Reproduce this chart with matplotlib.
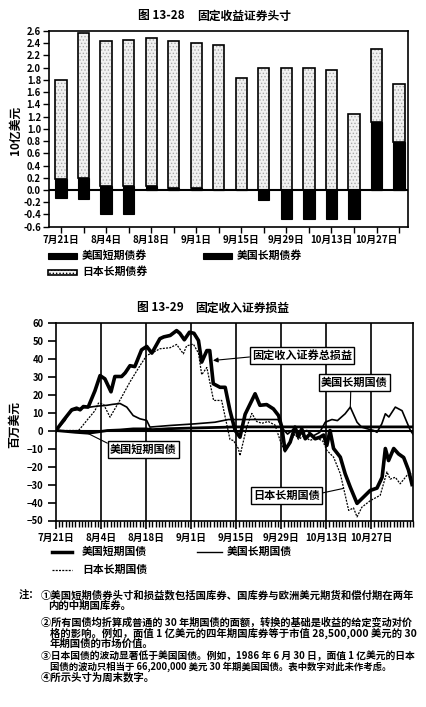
import matplotlib
matplotlib.use('Agg')
import matplotlib.pyplot as plt
import numpy as np
from matplotlib.patches import Rectangle
from matplotlib.lines import Line2D

plt.rcParams['font.family'] = ['Noto Sans CJK SC', 'DejaVu Sans']
plt.rcParams['axes.unicode_minus'] = False
plt.rcParams['hatch.linewidth'] = 0.6

# ---------------- data: Fig 13-28 positions (10亿美元) ----------------
bar_dates = ['7月21日', '7月28日', '8月4日', '8月11日', '8月18日', '8月25日',
             '9月1日', '9月8日', '9月15日', '9月22日', '9月29日', '10月6日',
             '10月13日', '10月20日', '10月27日', '11月3日']
us_short_pos = [-0.13, -0.15, -0.39, -0.39, 0.0, 0.0, 0.0, 0.0,
                0.0, -0.16, -0.48, -0.48, -0.48, -0.48, 0.0, 0.0]
us_long_pos = [0.18, 0.20, 0.07, 0.07, 0.07, 0.04, 0.04, 0.0,
               0.0, 0.0, 0.0, 0.0, 0.0, 0.0, 1.11, 0.79]
jp_long_pos = [1.62, 2.37, 2.37, 2.39, 2.41, 2.40, 2.37, 2.37,
               1.83, 2.00, 2.00, 2.00, 1.97, 1.25, 1.19, 0.95]
top_yticks = [-0.6, -0.4, -0.2, 0.0, 0.2, 0.4, 0.6, 0.8, 1.0, 1.2, 1.4,
              1.6, 1.8, 2.0, 2.2, 2.4, 2.6]

# ---------------- data: Fig 13-29 P&L (百万美元), day 0 = 7月21日 ----------------
pl_tick_labels = ['7月21日', '8月4日', '8月18日', '9月1日', '9月15日',
                  '9月29日', '10月13日', '10月27日']
total_days = [0, 2.3, 4.9, 6.4, 7.5, 8.5, 10, 12.1, 13.7, 15.2, 17.1, 18.3, 20.4,
              21.5, 23, 24.5, 26.6, 28.2, 29.8, 32.3, 33.5, 35.5, 37.5, 38.5,
              39.9, 41.5, 42.9, 44.3, 45.3, 46.9, 47.8, 48.9, 51, 52.6, 54.1,
              55.7, 57.2, 58.8, 61.9, 63.4, 65.5, 67.6, 69.2, 70.2, 71.2, 72.8,
              74.3, 75.4, 76.4, 77.5, 79, 80.6, 82.1, 83.2, 84.2, 85.2, 86.3,
              88.4, 89.9, 91.5, 93.6, 95.6, 97.7, 99.8, 101.4, 102.4, 103.4,
              105, 106.5, 108.1, 109.6, 110.7]
total_vals = [0, 5.6, 11.5, 12.4, 11.5, 13.3, 13, 22, 30.5, 28.7, 21.5, 30, 30,
              32, 36, 35.5, 44.8, 46.7, 43, 51, 52, 52.8, 55.5, 54,
              50.4, 54.6, 54, 50, 38, 44.4, 44.4, 26, 24, 24, 11,
              0, -3.7, 9, 20.4, 14, 14.4, 12, 8.3, 2, -11, -6.5,
              1.9, -3.5, 0.9, -4.6, -1.9, -4.6, -3.7, -2.5, -8.3, 0, -10,
              -14.8, -24, -31.5, -40.5, -37, -33.3, -32, -26, -10, -16.7,
              -10, -13, -15, -22, -30]
us_short_days = [0, 3, 6, 10, 13, 16, 20, 24, 28, 30, 35, 45, 52, 55, 111]
us_short_vals = [0, -0.5, -1, -1.5, -0.8, 0, 0.3, 0.9, 0.9, 0.5, 1, 1.5, 1.8, 2, 2]
us_long_days = [0, 2.8, 3.8, 4.9, 6.4, 8, 10.6, 12.6, 15.8, 17.5, 19.9, 22, 24,
                26.1, 28.2, 29.2, 35.5, 43.2, 49.4, 53.6, 69, 70.5, 72, 74, 76,
                78, 80, 82, 83.7, 85.8, 87.5, 89.9, 91.5, 93.6, 95, 96.7, 98.8,
                99.8, 101.3, 102.4, 103.5, 105.5, 107.6, 109.1, 110.2, 111]
us_long_vals = [0, 5.6, 9.3, 11, 11.5, 12.6, 13, 13.5, 14, 14.5, 15, 13, 8.3,
                6.5, 5.6, 1.9, 2.8, 3.7, 4.6, 6.1, 6.1, 1, -2, 1, -2,
                0, -3, -1, 4.6, 6.1, 5.5, 9.3, 13, 4.6, 1.9, 1, 0,
                -1, 3.7, 9.3, 7.5, 13, 11, 4.6, 0, -2]
jp_days = [0, 7, 7.5, 10, 12.1, 13.2, 14.8, 16.8, 18.3, 20.4, 23, 26.1, 28.2,
           29.8, 32.3, 35.5, 37.5, 39.6, 40.6, 42.7, 44.3, 44.8, 45.3, 46.9,
           49, 51.5, 54.1, 55.2, 56.7, 57.2, 59.3, 60.9, 62.4, 64, 66, 68.1,
           69.7, 71.2, 72.8, 74.3, 75.4, 77, 79, 81, 83, 84.2, 86.3, 88.4, 91,
           92.5, 93.6, 95.1, 97.7, 100.8, 102.9, 103.9, 105.5, 107, 109.1,
           110.6]
jp_vals = [0, 0, 1, 6.5, 11, 15.2, 14.5, 7.4, 12, 18.5, 27, 36, 41.7,
           43, 45.4, 46, 47.8, 42.6, 47, 48, 43, 37, 31, 35,
           16.7, 16.7, -5, -5.6, -10, -14, 1.9, 9.5, 5, 4, 5, 3,
           -5.6, -12, -6, -2, -5, -3, -5.5, -4, -6, -11, -14.8, -24, -44.4,
           -43, -48, -42.6, -39, -36, -23, -27, -26, -29.6, -25,
           -24]

W, H = 427, 707
fig = plt.figure(figsize=(W / 100, H / 100), dpi=100)


def fx(x):
    return x / W


def fy(y):
    return 1 - y / H


BOLD = 'bold'

# ======================= Figure 13-28 =======================
fig.text(fx(138), fy(16), '图 13-28', fontsize=8.5, fontweight=BOLD, ha='left', va='center')
fig.text(fx(197), fy(16), '固定收益证券头寸', fontsize=8.5, fontweight=BOLD, ha='left', va='center')

ax1 = fig.add_axes([fx(49.3), fy(226.7), (408.3 - 49.3) / W, (226.7 - 31) / H])
x = np.arange(len(bar_dates))
bw = 0.5
ax1.bar(x, us_short_pos, width=bw, color='black', edgecolor='black', lw=0.8, zorder=3)
ax1.bar(x, us_long_pos, width=bw, color='black', edgecolor='black', lw=0.8, zorder=3)
ax1.bar(x, jp_long_pos, bottom=us_long_pos, width=bw, color='#f1f1f1',
        edgecolor='#a8a8a8', hatch='.....', lw=0, zorder=2)
ax1.bar(x, jp_long_pos, bottom=us_long_pos, width=bw, fill=False,
        edgecolor='black', lw=1.2, zorder=4)
ax1.axhline(0, color='black', lw=1.5, zorder=5)
ax1.set_xlim(-0.52, 15.41)
ax1.set_ylim(-0.6, 2.6)
ax1.set_yticks(top_yticks)
ax1.set_yticklabels([f'{v:.1f}' for v in top_yticks], fontsize=6.8, fontweight=BOLD)
ax1.set_xticks(x)
ax1.set_xticklabels([d if i % 2 == 0 else '' for i, d in enumerate(bar_dates)],
                    fontsize=7, fontweight=BOLD)
ax1.tick_params(axis='both', direction='out', length=4, width=1, pad=2, colors='black')
for s in ax1.spines.values():
    s.set_linewidth(1.2)
fig.text(fx(15), fy(130), '10亿美元', rotation=90, fontsize=8.5, fontweight=BOLD,
         ha='center', va='center')

# legend (manual)
fig.add_artist(Rectangle((fx(48), fy(258.5)), 29 / W, 6 / H, transform=fig.transFigure,
                         facecolor='black', edgecolor='black', lw=0.8))
fig.text(fx(82), fy(255.5), '美国短期债券', fontsize=7.8, fontweight=BOLD, va='center')
fig.add_artist(Rectangle((fx(203), fy(258.5)), 29 / W, 6 / H, transform=fig.transFigure,
                         facecolor='black', edgecolor='black', lw=0.8))
fig.text(fx(237), fy(255.5), '美国长期债券', fontsize=7.8, fontweight=BOLD, va='center')
fig.add_artist(Rectangle((fx(48), fy(274.5)), 29 / W, 5 / H, transform=fig.transFigure,
                         facecolor='#f1f1f1', edgecolor='black', lw=1.2, hatch='.....'))
fig.text(fx(82), fy(272), '日本长期债券', fontsize=7.8, fontweight=BOLD, va='center')

# ======================= Figure 13-29 =======================
fig.text(fx(137), fy(308), '图 13-29', fontsize=8.5, fontweight=BOLD, ha='left', va='center')
fig.text(fx(195), fy(308), '固定收入证券损益', fontsize=8.5, fontweight=BOLD, ha='left', va='center')

ax2 = fig.add_axes([fx(56), fy(520.5), (413 - 56) / W, (520.5 - 322.5) / H])
ax2.set_xlim(0, 111)
ax2.set_ylim(-50, 60)
major = np.arange(0, 99, 14)
ax2.set_xticks(major)
ax2.set_xticklabels(pl_tick_labels, fontsize=7, fontweight=BOLD)
ax2.set_xticks(np.arange(0, 112, 1), minor=True)
yt = np.arange(-50, 61, 10)
ax2.set_yticks(yt)
ax2.set_yticklabels([('−' + str(-v)) if v < 0 else str(v) for v in yt],
                    fontsize=6.8, fontweight=BOLD)
ax2.tick_params(axis='both', which='major', direction='out', length=6, width=1.2, pad=3)
ax2.tick_params(axis='x', which='minor', direction='out', length=4, width=1)
for d in major[1:]:
    ax2.axvline(d, color='black', lw=1.2, zorder=1)
ax2.axhline(0, color='black', lw=1.5, zorder=2)
for s in ax2.spines.values():
    s.set_linewidth(1.2)

ax2.plot(jp_days, jp_vals, color='black', lw=0.9, ls=(0, (1.6, 1.0)), zorder=3)
ax2.plot(us_long_days, us_long_vals, color='black', lw=1.2, zorder=4)
ax2.plot(us_short_days, us_short_vals, color='black', lw=2.0, zorder=4)
ax2.plot(total_days, total_vals, color='black', lw=2.6, zorder=5,
         solid_joinstyle='round')

box = dict(boxstyle='square,pad=0.18', fc='white', ec='black', lw=1)
ax2.annotate('固定收入证券总损益', xy=(48.8, 38.9), xytext=(76.5, 41.7),
             fontsize=8, fontweight=BOLD, ha='center', va='center', bbox=box, zorder=6,
             arrowprops=dict(arrowstyle='-|>', lw=0.8, color='black', mutation_scale=7,
                             shrinkA=0, shrinkB=0, relpos=(0, 0.4)))
ax2.annotate('美国长期国债', xy=(91.5, 12.8), xytext=(92.7, 26.7),
             fontsize=8, fontweight=BOLD, ha='center', va='center', bbox=box, zorder=6,
             arrowprops=dict(arrowstyle='-', lw=0.8, color='black',
                             shrinkA=0, shrinkB=0, relpos=(0.45, 0)))
ax2.annotate('美国短期国债', xy=(10, -1.7), xytext=(27.1, -10.6),
             fontsize=8, fontweight=BOLD, ha='center', va='center', bbox=box, zorder=6,
             arrowprops=dict(arrowstyle='-', lw=0.8, color='black',
                             shrinkA=0, shrinkB=0, relpos=(0, 0.9)))
ax2.annotate('日本长期国债', xy=(89.3, -32.2), xytext=(71.6, -36.1),
             fontsize=8, fontweight=BOLD, ha='center', va='center', bbox=box, zorder=6,
             arrowprops=dict(arrowstyle='-', lw=0.8, color='black',
                             shrinkA=0, shrinkB=0, relpos=(1, 0.65)))

fig.text(fx(15), fy(425), '百万美元', rotation=90, fontsize=8.5, fontweight=BOLD,
         ha='center', va='center')

# legend (manual)
fig.add_artist(Line2D([fx(52), fx(72)], [fy(552), fy(552)], transform=fig.transFigure,
                      color='black', lw=2.5))
fig.text(fx(82), fy(552), '美国短期国债', fontsize=7.8, fontweight=BOLD, va='center')
fig.add_artist(Line2D([fx(197), fx(222)], [fy(552), fy(552)], transform=fig.transFigure,
                      color='black', lw=1.0))
fig.text(fx(227), fy(552), '美国长期国债', fontsize=7.8, fontweight=BOLD, va='center')
fig.add_artist(Line2D([fx(52), fx(72)], [fy(570), fy(570)], transform=fig.transFigure,
                      color='black', lw=0.9, ls=(0, (1.6, 1.0))))
fig.text(fx(82), fy(570), '日本长期国债', fontsize=7.8, fontweight=BOLD, va='center')

# ======================= notes =======================
NFS = 7.5
fig.text(fx(19), fy(595), '注：', fontsize=NFS, fontweight=BOLD, va='center')
# (x start, y, text, target right edge in px or None)
notes = [
    (41, 595, '①美国短期债券头寸和损益数包括国库券、国库券与欧洲美元期货和偿付期在两年', 415),
    (48, 606, '内的中期国库券。', None),
    (41, 622, '②所有国债均折算成普通的 30 年期国债的面额，转换的基础是收益的给定变动对价', 415),
    (50, 633, '格的影响。例如，面值 1 亿美元的四年期国库券等于市值 28,500,000 美元的 30', 415),
    (50, 644, '年期国债的市场价值。', None),
    (41, 656, '③日本国债的波动显著低于美国国债。例如，1986 年 6 月 30 日，面值 1 亿美元的日本', 415),
    (50, 667, '国债的波动只相当于 66,200,000 美元 30 年期美国国债。表中数字对此未作考虑。', 392),
    (41, 677, '④所示头寸为周末数字。', None),
]
renderer = fig.canvas.get_renderer()
for xx, yy, t, right in notes:
    txt = fig.text(fx(xx), fy(yy), t, fontsize=NFS, fontweight=BOLD, va='center', ha='left')
    if right is not None:
        for _ in range(3):
            bb = txt.get_window_extent(renderer)
            w = bb.x1 - bb.x0
            if w > 0:
                txt.set_fontsize(txt.get_fontsize() * (right - xx) / w)

fig.savefig('out.png', dpi=100)
